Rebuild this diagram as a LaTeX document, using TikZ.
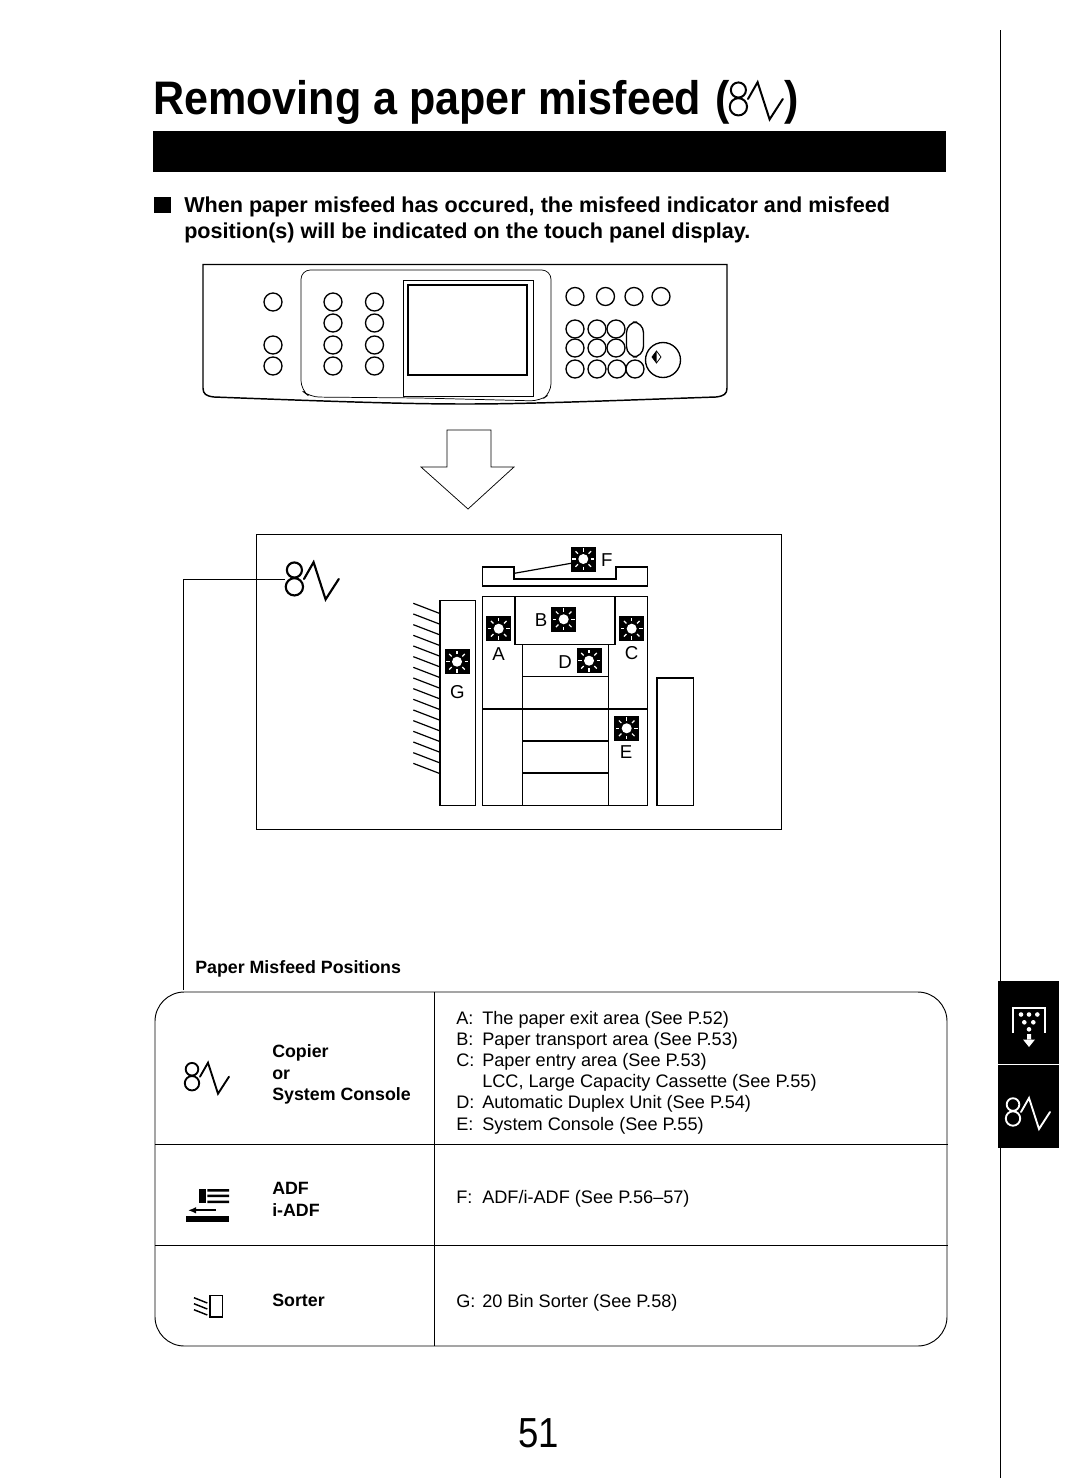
\documentclass[tikz,border=0pt]{standalone}
\usepackage{fontspec}
\setmainfont{Liberation Sans}
\newfontfamily\titlefont[FakeStretch=0.915]{Liberation Sans}
\newfontfamily\numfont[FakeStretch=0.87]{Liberation Sans}
\usetikzlibrary{arrows.meta}
\tikzset{
  ink/.style={draw=black,line width=0.9pt},
  thin ink/.style={draw=black,line width=0.55pt},
  keycap/.style={draw=black,line width=1pt,fill=white},
  lab/.style={font=\fontsize{13.6pt}{15pt}\selectfont,anchor=base west,inner sep=0pt},
  blab/.style={font=\bfseries\fontsize{13.35pt}{15pt}\selectfont,anchor=base west,inner sep=0pt},
  poslab/.style={font=\fontsize{14pt}{15pt}\selectfont,inner sep=0pt},
  titletext/.style={font=\titlefont\bfseries\fontsize{35.3pt}{40pt}\selectfont,anchor=base west,inner sep=0pt},
  introtext/.style={font=\bfseries\fontsize{16.2pt}{20pt}\selectfont,anchor=base west,inner sep=0pt},
  misicon/.pic={
    \draw[line cap=round,line join=miter] (7,7.5) circle (6.3) (7,21.5) circle (7.2);
    \draw[line cap=round,line join=miter] (15,15) -- (23,1) -- (33,32) -- (44,15);
  },
  sun/.pic={
    \fill[black] (-12.5,-12.5) rectangle (12.5,12.5);
    \fill[white] (0,0) circle (5);
    \foreach \a in {0,45,...,315}
      \draw[white,line width=0.9pt] (\a:7.5) -- (\a:11);
  }
}
\begin{document}
\begin{tikzpicture}[x=0.75pt,y=-0.75pt]
\useasboundingbox (0,0) rectangle (1080,1478);
\fill[white] (0,0) rectangle (1080,1478);

% Title
\node[titletext] (title) at (153,114) {Removing a paper misfeed};
\node[titletext] (titleopen) at (715,114) {(};
\pic[black,line width=1.5pt,scale=1.2] at (730,81) {misicon};
\node[titletext] (titleend) at (784,114) {)};
\fill[black] (153,131) rectangle (946,172);

% Intro
\fill[black] (154,197) rectangle (171,213);
\node[introtext] (intro1) at (184,212) {When paper misfeed has occured, the misfeed indicator and misfeed};
\node[introtext] (intro2) at (184,238) {position(s) will be indicated on the touch panel display.};

% Control panel
\draw[ink,line width=1.1pt] (203,264.5) -- (727,264.5) -- (727,388) .. controls (727,394) and (724,396) .. (716,397) .. controls (600,401) and (530,404) .. (465,404) .. controls (400,404) and (320,401) .. (214,397) .. controls (206,396) and (203,394) .. (203,388) -- cycle;
\draw[thin ink,rounded corners=7pt] (301,270) -- (551,270) -- (551,393) -- (540,401) -- (420,398) -- (310,397) -- (301,390) -- cycle;
\draw[thin ink] (403,280) rectangle (533,396);
\draw[ink,line width=1.2pt,fill=white] (408,285) rectangle (527,375);
\foreach \x/\y in {273/302,273/345,273/366,333/302,333/323,333/345,333/366,374.5/302,374.5/323,374.5/345,374.5/366,575/296.5,605.5/296.5,634/296.5,661/296.5,575/329,597/329,616/329,575/348,597/348,616/348,575/369,597/369,617/369,635/369}
  \draw[keycap] (\x,\y) circle (9);
\draw[keycap,rounded corners=8pt] (626.5,322) rectangle (643.5,357);
\draw[keycap] (663,360) circle (17.5);
\draw[thin ink] (656.5,351) -- (661,357) -- (656.5,363) -- (652,357) -- cycle;
\fill[black] (656.5,351) -- (656.5,363) -- (652,357) -- cycle;

% Down arrow
\draw[thin ink,line join=miter] (447,467) -- (447,430) -- (491,430) -- (491,467) -- (514,467) -- (468,509) -- (421,467) -- cycle;

% Positions frame
\draw[thin ink] (256,534) rectangle (781,829);
\pic[black,line width=1.6pt,scale=1.2] (bigicon) at (286,561) {misicon};

% ADF tray
\draw[ink,line width=1.1pt] (482.7,567) -- (514,567) -- (514,579) -- (616,579) -- (616,567) -- (647.7,567) -- (647.7,586) -- (482.7,586) -- cycle;
\coordinate (trayhook) at (514.3,573.3);
\coordinate (sunF) at (571,563.3);
\draw[ink] (trayhook) -- (sunF);

% Machine
\draw[ink,line width=1.1pt] (482.7,596.7) rectangle (647.7,805.7);
\draw[ink,line width=1.1pt] (515,596.7) rectangle (615,644.3);
\draw[ink] (522.7,644.3) -- (522.7,805.7) (608.3,644.3) -- (608.3,805.7);
\draw[ink] (522.7,676.7) -- (608.3,676.7) (522.7,741) -- (608.3,741) (522.7,773) -- (608.3,773);
\draw[ink] (482.7,709) -- (647.7,709);
\draw[ink,line width=1.1pt] (657,678) rectangle (693.3,805.7);
\draw[ink,line width=1.1pt] (440,600.7) rectangle (475.3,805.7);
\foreach \i in {0,...,15}
  \draw[ink] (413.3,603.3+10.67*\i) -- (439.3,613.3+10.67*\i);

% Suns
\pic at (583.3,559) {sun};
\pic at (498.7,628.7) {sun};
\pic at (563.7,619.3) {sun};
\pic at (631.7,628.7) {sun};
\pic at (589,660.7) {sun};
\pic at (626.7,728.3) {sun};
\pic at (457,661.7) {sun};
\node[poslab] (lF) at (606.7,560) {F};
\node[poslab] (lA) at (498.7,654) {A};
\node[poslab] (lB) at (541,620) {B};
\node[poslab] (lC) at (631.7,652.7) {C};
\node[poslab] (lD) at (565,661.7) {D};
\node[poslab] (lE) at (626,751.7) {E};
\node[poslab] (lG) at (457.3,692) {G};

% Leader
\coordinate (leadA) at (285,579);
\coordinate (leadB) at (183,990);
\draw[thin ink] (leadA) -| (leadB);

% Table
\node[blab] (head) at (195,973) {Paper Misfeed Positions};
\draw[thin ink,line width=0.7pt,rounded corners=22pt] (155,1144) -- (155,992) -- (947,992) -- (947,1346) -- (155,1346) -- cycle;
\draw[thin ink,line width=0.7pt] (155,1144) -- (948,1144) (155,1245) -- (948,1245) (434,992) -- (434,1346);

\pic[black,line width=1.4pt] at (185,1061.7) {misicon};
\node[blab] (c1) at (272,1057) {Copier};
\node[blab] (c2) at (272,1079) {or};
\node[blab] (c3) at (272,1100) {System Console};
\foreach \n/\l/\t/\y in {a/A:/{The paper exit area (See P.52)}/1024,b/B:/{Paper transport area (See P.53)}/1045,c/C:/{Paper entry area (See P.53)}/1066,e/{}/{LCC, Large Capacity Cassette (See P.55)}/1087,d/D:/{Automatic Duplex Unit (See P.54)}/1108,f/E:/{System Console (See P.55)}/1130,g/F:/{ADF/i-ADF (See P.56–57)}/1203,h/G:/{20 Bin Sorter (See P.58)}/1307}{
  \node[lab] (l\n) at (456,\y) {\l};
  \node[lab] (t\n) at (482,\y) {\t};
}

% ADF icon
\fill[black] (199,1189.3) rectangle (205.7,1203.3);
\fill[black] (207.3,1189) rectangle (229,1191.5) (207.3,1194.7) rectangle (229,1197.2) (207.3,1200.5) rectangle (229,1203);
\coordinate (adfA) at (215.7,1210.3);
\coordinate (adfB) at (188,1210.3);
\draw[black,line width=1.5pt,-{Latex[length=6pt,width=5pt]}] (adfA) -- (adfB);
\fill[black] (186,1216) rectangle (229,1222.3);
\node[blab] (adf1) at (272,1194) {ADF};
\node[blab] (adf2) at (272,1216) {i-ADF};

% Sorter icon
\draw[ink,line width=1.1pt] (210,1295.7) rectangle (222.7,1317);
\foreach \i in {0,1,2}
  \draw[ink,line width=1.1pt] (194,1297.7+6*\i) -- (207.3,1303+6*\i);
\node[blab] (s1) at (272,1306) {Sorter};

% Page number
\node[font=\numfont\fontsize{31.5pt}{36pt}\selectfont,anchor=base west,inner sep=0pt] (pn) at (518,1447) {51};

% Side rule and tabs
\draw[thin ink,line width=0.7pt] (1000,30) -- (1000,981) (1000,1148) -- (1000,1478);
\fill[black] (998,981) rectangle (1059,1148);
\draw[white,line width=0.5pt] (998,1064) -- (1059,1064);
\draw[white,line width=1.2pt] (1012.7,1033) -- (1012.7,1007.7) -- (1045,1007.7) -- (1045,1033);
\foreach \x/\y in {1021/1014.5,1029/1014.5,1037.3/1014.5,1024.3/1022.3,1033.3/1022.3,1029/1029.3}
  \fill[white] (\x,\y) circle (2.3);
\fill[white] (1027,1034) rectangle (1031,1040) (1023,1039.5) -- (1035,1039.5) -- (1029,1047) -- cycle;
\pic[white,line width=1.4pt] at (1006,1097) {misicon};
\end{tikzpicture}
\end{document}
